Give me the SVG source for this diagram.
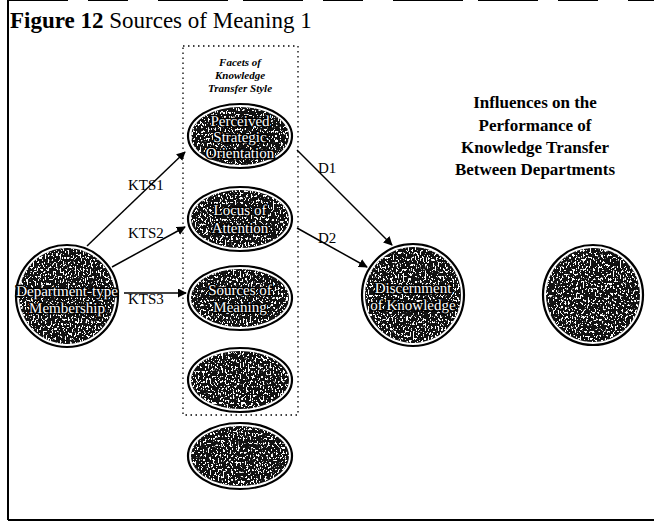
<svg xmlns="http://www.w3.org/2000/svg" width="654" height="523" viewBox="0 0 654 523">
  <style>
    .title { font-family: "Liberation Serif", "Times New Roman", serif; font-size: 23px; fill: #000; }
    .heading { font-family: "Liberation Serif", "Times New Roman", serif; font-size: 17px; font-weight: bold; fill: #000; text-anchor: middle; }
    .facet { font-family: "Liberation Serif", "Times New Roman", serif; font-size: 11px; font-weight: bold; font-style: italic; fill: #000; text-anchor: middle; }
    .label { font-family: "Liberation Serif", "Times New Roman", serif; font-size: 15px; fill: #000; }
    .inner { font-family: "Liberation Serif", "Times New Roman", serif; font-size: 15px; fill: #fff; stroke: #000; stroke-width: 3px; paint-order: stroke; text-anchor: middle; stroke-linejoin: round; text-rendering: geometricPrecision; }
    .rim { fill: #fff; stroke: #000; stroke-width: 2.2; }
    .core { fill: #111; }
    .edge { fill: none; stroke: #000; stroke-width: 1.5; }
  </style>
  <defs>
    <!-- speckled shading used inside every node -->
    <filter id="grain" x="0" y="0" width="100%" height="100%" color-interpolation-filters="sRGB">
      <feTurbulence type="fractalNoise" baseFrequency="0.6 0.42" numOctaves="2" seed="7" result="noise"/>
      <feColorMatrix in="noise" type="matrix" values="0 0 0 0 1  0 0 0 0 1  0 0 0 0 1  0 0 0 -24 10.1" result="spots"/>
      <feComposite in="spots" in2="SourceGraphic" operator="in" result="clipped"/>
      <feMerge>
        <feMergeNode in="SourceGraphic"/>
        <feMergeNode in="clipped"/>
      </feMerge>
    </filter>
    <marker id="head" viewBox="0 0 10 10" refX="9" refY="5" markerWidth="9" markerHeight="9" markerUnits="userSpaceOnUse" orient="auto">
      <path d="M0,0 L10,5 L0,10 Z" fill="#000"/>
    </marker>
  </defs>

  <rect width="654" height="523" fill="#fff"/>

  <!-- page frame -->
  <g id="frame" stroke="#000" fill="none">
    <line x1="8" y1="0" x2="8" y2="520" stroke-width="2"/>
    <line x1="8" y1="520" x2="654" y2="520" stroke-width="2"/>
    <line x1="8" y1="0.5" x2="654" y2="0.5" stroke-width="1" stroke-dasharray="60 20 40 30 70 15"/>
  </g>

  <!-- title -->
  <text class="title" x="10" y="28"><tspan font-weight="bold">Figure 12</tspan> Sources of Meaning 1</text>

  <!-- heading on the right -->
  <g id="heading">
    <text class="heading" x="535" y="108">Influences on the</text>
    <text class="heading" x="535" y="131">Performance of</text>
    <text class="heading" x="535" y="153">Knowledge Transfer</text>
    <text class="heading" x="535" y="175">Between Departments</text>
  </g>

  <!-- facets box -->
  <g id="facets-box">
    <rect x="183" y="46" width="115" height="369" fill="none" stroke="#000" stroke-width="1.3" stroke-dasharray="1.5 3.5"/>
    <text class="facet" x="240" y="66">Facets of</text>
    <text class="facet" x="240" y="79">Knowledge</text>
    <text class="facet" x="240" y="92">Transfer Style</text>
  </g>

  <!-- connectors -->
  <g id="connectors">
    <line class="edge" x1="87" y1="246" x2="185" y2="152" marker-end="url(#head)"/>
    <line class="edge" x1="112" y1="267" x2="185" y2="227" marker-end="url(#head)"/>
    <line class="edge" x1="124" y1="293" x2="186" y2="293" marker-end="url(#head)"/>
    <line class="edge" x1="297" y1="150" x2="392" y2="245" marker-end="url(#head)"/>
    <line class="edge" x1="297" y1="228" x2="367" y2="267" marker-end="url(#head)"/>
    <text class="label" x="128" y="190">KTS1</text>
    <text class="label" x="128" y="238">KTS2</text>
    <text class="label" x="128" y="304">KTS3</text>
    <text class="label" x="318" y="173">D1</text>
    <text class="label" x="318" y="243">D2</text>
  </g>

  <!-- nodes -->
  <g id="department-type">
    <circle class="rim" cx="67" cy="296" r="51"/>
    <circle class="core" cx="67" cy="296" r="48" filter="url(#grain)"/>
    <text class="inner" x="67" y="296" font-size="14">Department-type</text>
    <text class="inner" x="67" y="313" font-size="14">Membership</text>
  </g>

  <g id="strategic-orientation">
    <ellipse class="rim" cx="240" cy="136" rx="52" ry="32"/>
    <ellipse class="core" cx="240" cy="136" rx="49" ry="29" filter="url(#grain)"/>
    <text class="inner" x="240" y="126">Perceived</text>
    <text class="inner" x="240" y="142">Strategic</text>
    <text class="inner" x="240" y="158">Orientation</text>
  </g>

  <g id="locus-of-attention">
    <ellipse class="rim" cx="240" cy="219" rx="52" ry="32"/>
    <ellipse class="core" cx="240" cy="219" rx="49" ry="29" filter="url(#grain)"/>
    <text class="inner" x="240" y="215">Locus of</text>
    <text class="inner" x="240" y="233">Attention</text>
  </g>

  <g id="sources-of-meaning">
    <ellipse class="rim" cx="240" cy="298" rx="52" ry="32"/>
    <ellipse class="core" cx="240" cy="298" rx="49" ry="29" filter="url(#grain)"/>
    <text class="inner" x="240" y="295">Sources of</text>
    <text class="inner" x="240" y="312">Meaning</text>
  </g>

  <g id="facet-four">
    <ellipse class="rim" cx="240" cy="380" rx="52" ry="32"/>
    <ellipse class="core" cx="240" cy="380" rx="49" ry="29" filter="url(#grain)"/>
  </g>

  <g id="facet-five">
    <ellipse class="rim" cx="240" cy="456" rx="52" ry="33"/>
    <ellipse class="core" cx="240" cy="456" rx="49" ry="30" filter="url(#grain)"/>
  </g>

  <g id="discernment">
    <circle class="rim" cx="413" cy="295" r="51"/>
    <circle class="core" cx="413" cy="295" r="48" filter="url(#grain)"/>
    <text class="inner" x="413" y="293" font-size="14">Discernment</text>
    <text class="inner" x="413" y="310" font-size="14">of Knowledge</text>
  </g>

  <g id="performance">
    <circle class="rim" cx="593" cy="295" r="50"/>
    <circle class="core" cx="593" cy="295" r="47" filter="url(#grain)"/>
  </g>
</svg>
